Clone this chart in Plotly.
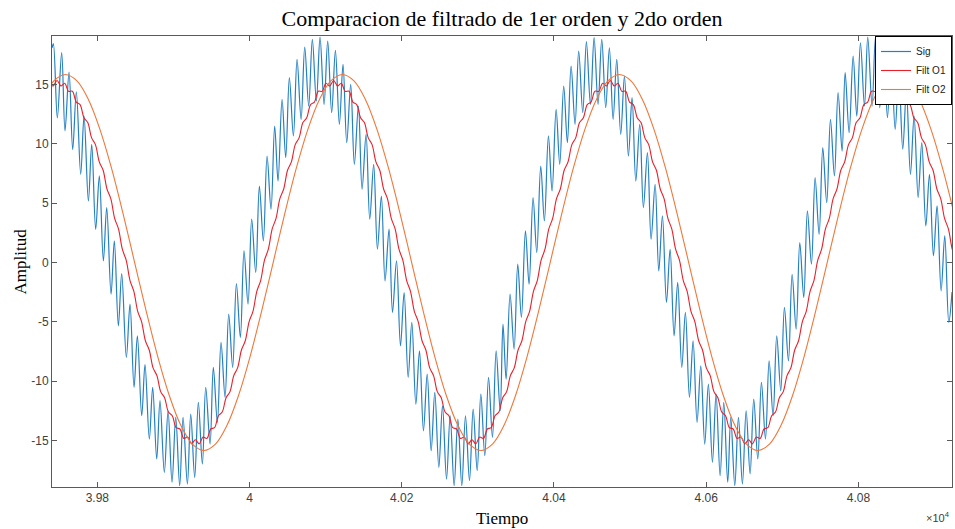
import numpy as np
import plotly.graph_objects as go

# ---------------- data ----------------
# Sig: sample time (x) and amplitude at each local max / min of the signal
sig_t = [
    39740.5, 39742.2, 39747.4, 39753.1, 39757.5, 39762.8, 39767.6, 39772.4, 39778.1, 39782.5,
    39788.2, 39792.6, 39797.8, 39802.6, 39807.9, 39812.3, 39818.0, 39822.3, 39827.6, 39832.0,
    39838.1, 39842.9, 39848.2, 39852.6, 39858.3, 39862.6, 39868.3, 39872.7, 39878.0, 39882.3,
    39888.0,
    39892.9, 39898.1, 39903.0, 39908.2, 39912.6, 39918.3, 39922.7, 39927.9, 39932.7, 39938.0,
    39942.4, 39948.1, 39952.4, 39957.7, 39962.5, 39967.8, 39972.6, 39977.8, 39982.7, 39987.9,
    39992.7, 39998.0, 40002.8, 40008.1, 40012.9, 40018.1, 40023.0, 40028.2, 40033.0, 40037.4,
    40042.7, 40047.5, 40052.3, 40057.6, 40062.4, 40067.7, 40072.5, 40077.7, 40082.5, 40087.8,
    40092.6, 40097.9, 40102.7, 40107.9, 40112.8, 40118.0, 40122.8, 40127.7, 40132.9, 40137.7,
    40143.0, 40147.8, 40153.1, 40157.9, 40163.1, 40168.0, 40173.2, 40178.0, 40183.3,
    40187.8, 40193.1, 40198.3, 40203.1, 40208.4, 40213.2, 40218.5, 40223.3, 40228.5, 40233.4,
    40238.6, 40243.4, 40248.7, 40253.5, 40258.8, 40263.6, 40268.8, 40273.7, 40278.9, 40283.7,
    40289.0, 40293.8, 40299.1, 40303.9, 40309.1, 40314.0, 40319.2, 40324.0, 40329.3, 40333.0,
    40337.1, 40342.3, 40347.6, 40352.4, 40357.2, 40362.5, 40367.3, 40372.5, 40377.4, 40382.6,
    40387.4, 40392.7, 40397.5, 40402.8, 40407.6, 40412.8, 40417.6, 40422.5, 40427.7, 40432.5,
    40437.8, 40442.6, 40447.9, 40452.7, 40457.9, 40462.8, 40468.0, 40472.8, 40477.7, 40482.5,
    40487.7, 40492.6, 40497.8, 40502.6, 40507.5, 40512.7, 40517.5, 40522.8, 40527.6, 40532.9,
    40537.7, 40542.5, 40547.8, 40552.6, 40557.8, 40562.6, 40567.9, 40572.7, 40578.0, 40582.8,
    40588.0, 40592.9, 40598.1, 40602.9, 40608.2, 40613.0, 40618.3, 40623.1, 40628.3,
    40632.3, 40637.6, 40642.4, 40647.6, 40652.5, 40657.7, 40662.5, 40667.8, 40672.6, 40677.9,
    40682.7, 40687.9, 40692.7, 40698.0, 40702.8, 40708.1, 40712.9, 40718.2, 40723.0, 40728.2,
    40733.0, 40738.3, 40743.1, 40748.4, 40753.2, 40758.4, 40763.3, 40768.5, 40773.3, 40778.6,
    40782.6, 40787.8, 40793.1, 40797.9, 40802.7, 40808.0, 40812.3, 40818.0, 40822.4, 40828.1,
    40832.9, 40838.2, 40843.0, 40848.3, 40853.1, 40858.3, 40863.1, 40868.4, 40873.2, 40878.5,
    40883.3, 40888.6, 40893.4, 40898.6, 40903.4, 40908.7, 40913.5, 40918.8, 40923.0,
]
sig_amp = [
    18.10, 18.45, 12.20, 17.70, 11.10, 16.06, 9.52, 14.40, 7.44, 12.35,
    5.19, 9.97, 2.80, 7.30, 0.14, 4.63, -2.67, 1.82, -5.34, -0.93,
    -8.00, -3.51, -10.53, -6.18, -12.92, -8.60, -14.89, -10.53, -16.57, -11.65,
    -17.70,
    -12.50, -18.53, -13.06, -18.82, -13.06, -18.68, -12.78, -18.11, -11.79, -16.99,
    -10.53, -15.31, -8.85, -13.48, -6.74, -11.37, -4.36, -8.85, -1.77, -6.32,
    0.98, -3.51, 3.65, -0.84, 6.45, 1.82, 8.98, 4.49, 11.51, 6.87,
    13.76, 8.85, 15.59, 10.67, 17.13, 12.07, 18.16, 13.19, 18.81, 13.61,
    19.01, 13.34, 18.67, 12.64, 17.89, 11.65, 16.71, 10.11, 15.02, 8.28,
    13.19, 6.18, 10.81, 3.65, 8.28, 1.12, 5.61, -1.55, 2.81,
    -4.21, 0.13, -7.03, -2.53, -9.69, -5.05, -11.94, -7.45, -14.19, -9.41,
    -15.87, -10.95, -17.27, -12.08, -18.26, -12.92, -18.82, -13.20, -18.82, -12.92,
    -18.40, -12.36, -17.55, -11.10, -16.29, -9.69, -14.74, -7.45, -12.50, -5.20,
    -9.83, -2.67, -7.30, -0.14, -4.63, 2.66, -1.83, 5.48, 0.84, 8.14,
    3.50, 10.67, 6.03, 12.91, 8.28, 14.88, 10.11, 16.56, 11.65, 17.83,
    12.64, 18.62, 13.34, 18.96, 13.34, 18.81, 13.06, 18.11, 12.07, 17.13,
    10.81, 15.72, 8.98, 13.90, 6.87, 11.65, 4.63, 9.27, 1.96, 6.60,
    -0.71, 3.93, -3.37, 1.12, -6.18, -1.68, -8.85, -4.21, -11.37, -6.60,
    -13.48, -8.71, -15.31, -10.25, -16.85, -11.10, -17.98, -11.79, -18.53,
    -13.06, -18.82, -13.06, -18.68, -12.50, -17.83, -11.52, -16.57, -10.11, -14.89,
    -8.29, -12.92, -6.18, -10.82, -3.79, -8.29, -0.99, -5.62, 1.68, -2.95,
    4.35, -0.14, 7.16, 2.38, 9.69, 5.05, 12.07, 7.30, 14.32, 9.40,
    16.01, 10.95, 17.41, 12.35, 18.53, 13.19, 19.01, 13.19, 18.96, 13.06,
    18.50, 12.22, 17.50, 11.23, 16.00, 9.55, 14.50, 7.44, 12.35, 5.48,
    10.11, 3.08, 7.44, 0.56, 4.77, -2.39, 2.24, -5.05, -2.50,
]

# Filt O1: values read every ~5 samples (small residual ripple visible)
o1_t0 = 39736.9
o1_dt = 5.0486
o1_amp = [
    15.12, 14.89,
    15.35, 14.89, 15.12, 14.43, 14.44, 13.53, 13.32, 12.21, 11.80, 10.51, 9.94, 8.49, 7.78, 6.20, 5.38, 3.72, 2.83, 1.12,
    0.20, -1.52, -2.43, -4.12, -4.98, -6.60, -7.38, -8.89, -9.54, -10.91, -11.40, -12.61, -12.92, -13.93, -14.04, -14.83, -14.72, -15.29,
    -14.95, -15.29, -14.72, -14.83, -14.04, -13.93, -12.92, -12.61, -11.40, -10.91, -9.54, -8.89, -7.38, -6.60, -4.98, -4.12, -2.43, -1.52,
    0.20, 1.12, 2.83, 3.72, 5.38, 6.20, 7.78, 8.49, 9.94, 10.51, 11.80, 12.21, 13.32, 13.53, 14.44, 14.43, 15.12, 14.89,
    15.35, 14.89, 15.12, 14.43, 14.44, 13.53, 13.32, 12.21, 11.80, 10.51, 9.94, 8.49, 7.78, 6.20, 5.38, 3.72, 2.83, 1.12,
    0.20, -1.52, -2.43, -4.12, -4.98, -6.60, -7.38, -8.89, -9.54, -10.91, -11.40, -12.61, -12.92, -13.93, -14.04, -14.83, -14.72, -15.29,
    -14.95, -15.29, -14.72, -14.83, -14.04, -13.93, -12.92, -12.61, -11.40, -10.91, -9.54, -8.89, -7.38, -6.60, -4.98, -4.12, -2.43, -1.52,
    0.20, 1.12, 2.83, 3.72, 5.38, 6.20, 7.78, 8.49, 9.94, 10.51, 11.80, 12.21, 13.32, 13.53, 14.44, 14.43, 15.12, 14.89,
    15.35, 14.89, 15.12, 14.43, 14.44, 13.53, 13.32, 12.21, 11.80, 10.51, 9.94, 8.49, 7.78, 6.20, 5.38, 3.72, 2.83, 1.12,
    0.20, -1.52, -2.43, -4.12, -4.98, -6.60, -7.38, -8.89, -9.54, -10.91, -11.40, -12.61, -12.92, -13.93, -14.04, -14.83, -14.72, -15.29,
    -14.95, -15.29, -14.72, -14.83, -14.04, -13.93, -12.92, -12.61, -11.40, -10.91, -9.54, -8.89, -7.38, -6.60, -4.98, -4.12, -2.43, -1.52,
    0.20, 1.12, 2.83, 3.72, 5.38, 6.20, 7.78, 8.49, 9.94, 10.51, 11.80, 12.21, 13.32, 13.53, 14.44, 14.43, 15.12, 14.89,
    15.35, 14.89, 15.12, 14.43, 14.44, 13.53, 13.32, 12.21, 11.80, 10.51, 9.94, 8.49, 7.78, 6.20, 5.38, 3.72, 2.83, 1.12,
    0.20,
]

# Filt O2: smooth curve, values read every ~15 samples
o2_t0 = 39727.67
o2_dt = 15.1667
o2_amp = [
    13.73, 15.31,
    15.85, 15.31, 13.73, 11.21, 7.93, 4.10, 0.00, -4.10, -7.93, -11.21, -13.73, -15.31,
    -15.85, -15.31, -13.73, -11.21, -7.93, -4.10, 0.00, 4.10, 7.93, 11.21, 13.73, 15.31,
    15.85, 15.31, 13.73, 11.21, 7.93, 4.10, 0.00, -4.10, -7.93, -11.21, -13.73, -15.31,
    -15.85, -15.31, -13.73, -11.21, -7.93, -4.10, 0.00, 4.10, 7.93, 11.21, 13.73, 15.31,
    15.85, 15.31, 13.73, 11.21, 7.93, 4.10, 0.00, -4.10, -7.93, -11.21, -13.73, -15.31,
    -15.85, -15.31, -13.73, -11.21, -7.93, -4.10, 0.00, 4.10, 7.93, 11.21, 13.73, 15.31,
    15.85, 15.31, 13.73, 11.21, 7.93, 4.10,
]

x_tick_vals = [39800, 40000, 40200, 40400, 40600, 40800]
x_tick_text = ["3.98", "4", "4.02", "4.04", "4.06", "4.08"]
y_tick_vals = [-15, -10, -5, 0, 5, 10, 15]
y_tick_text = ["-15", "-10", "-5", "0", "5", "10", "15"]
x_range = [39740.4, 40923.0]
y_range = [-18.93, 19.10]

o1_t = o1_t0 + o1_dt * np.arange(len(o1_amp))
o2_t = o2_t0 + o2_dt * np.arange(len(o2_amp))

# ---------------- figure ----------------
SANS = "Liberation Sans, Arial, sans-serif"
SERIF = "Liberation Serif, Times New Roman, serif"
AX = "#5a5a5a"

fig = go.Figure()
fig.add_trace(go.Scatter(x=sig_t, y=sig_amp, mode="lines", name="Sig",
                         line=dict(color="#2580c3", width=1.2, shape="spline")))
fig.add_trace(go.Scatter(x=o1_t, y=o1_amp, mode="lines", name="Filt O1",
                         line=dict(color="#e8202a", width=1.1, shape="spline")))
fig.add_trace(go.Scatter(x=o2_t, y=o2_amp, mode="lines", name="Filt O2",
                         line=dict(color="#f0773a", width=1.1, shape="spline")))

fig.update_layout(
    width=955, height=529,
    margin=dict(l=52, r=3, t=36, b=42),
    paper_bgcolor="white", plot_bgcolor="white",
    title=dict(text="Comparacion de filtrado de 1er orden y 2do orden",
               font=dict(family=SERIF, size=22, color="black"),
               x=0.5, xref="paper", xanchor="center",
               y=1 - 18 / 529, yref="container", yanchor="middle"),
    showlegend=True,
    legend=dict(x=1, y=1, xanchor="right", yanchor="top",
                bgcolor="white", bordercolor="black", borderwidth=1,
                font=dict(family=SANS, size=10, color="#222222"),
                itemwidth=30, tracegroupgap=0),
    font=dict(family=SANS, size=12, color="#404040"),
)
fig.update_xaxes(range=x_range, tickvals=x_tick_vals, ticktext=x_tick_text,
                 showgrid=False, zeroline=False, showline=True, linecolor=AX,
                 linewidth=1, mirror="ticks", ticks="inside", ticklen=5,
                 tickcolor=AX, tickfont=dict(family=SANS, size=12, color="#404040"))
fig.update_yaxes(range=y_range, tickvals=y_tick_vals, ticktext=y_tick_text,
                 showgrid=False, zeroline=False, showline=True, linecolor=AX,
                 linewidth=1, mirror="ticks", ticks="inside", ticklen=5,
                 tickcolor=AX, tickfont=dict(family=SANS, size=12, color="#404040"))

fig.add_annotation(text="Tiempo", xref="paper", yref="paper", x=0.5, y=-(518 - 487) / 451,
                   xanchor="center", yanchor="middle", showarrow=False,
                   font=dict(family=SERIF, size=17, color="black"))
fig.add_annotation(text="Amplitud", xref="paper", yref="paper", x=(20 - 52) / 900, y=0.5,
                   xanchor="center", yanchor="middle", textangle=-90, showarrow=False,
                   font=dict(family=SERIF, size=17, color="black"))
fig.add_annotation(text="\u00d710<sup>4</sup>", xref="paper", yref="paper",
                   x=1.0, y=-(517 - 487) / 451, xanchor="right", yanchor="middle",
                   showarrow=False, font=dict(family=SANS, size=11, color="#404040"))

fig.write_html("out.html")
